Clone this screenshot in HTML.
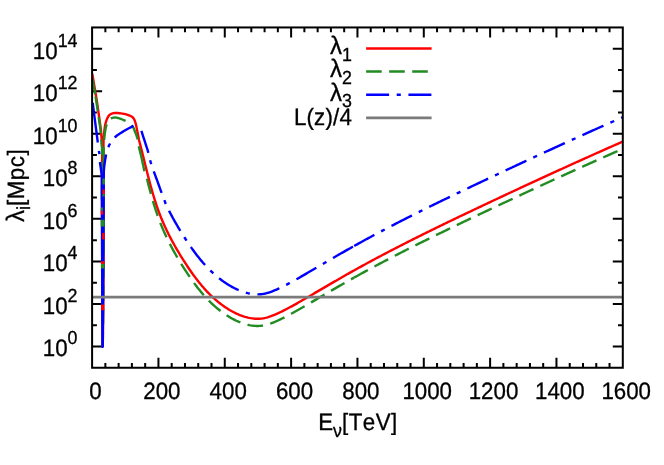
<!DOCTYPE html>
<html><head><meta charset="utf-8"><title>plot</title><style>html,body{margin:0;padding:0;background:#fff}body{width:664px;height:465px;overflow:hidden}.t,.t text,.t tspan{font-family:"Liberation Sans",sans-serif;text-rendering:geometricPrecision;font-kerning:none}</style></head><body>
<svg width="664" height="465" viewBox="0 0 664 465" style="display:block">
<rect width="664" height="465" fill="#fff"/>
<defs><clipPath id="c"><rect x="92.1" y="27.45" width="530.6999999999999" height="340.3"/></clipPath><filter id="tf" filterUnits="userSpaceOnUse" x="0" y="0" width="664" height="465"><feOffset dx="0" dy="0"/></filter></defs>
<path d="M92.1,346.48h10M622.8,346.48h-10M92.1,325.21h4.8M622.8,325.21h-4.8M92.1,303.94h10M622.8,303.94h-10M92.1,282.68h4.8M622.8,282.68h-4.8M92.1,261.41h10M622.8,261.41h-10M92.1,240.14h4.8M622.8,240.14h-4.8M92.1,218.87h10M622.8,218.87h-10M92.1,197.60h4.8M622.8,197.60h-4.8M92.1,176.33h10M622.8,176.33h-10M92.1,155.06h4.8M622.8,155.06h-4.8M92.1,133.79h10M622.8,133.79h-10M92.1,112.52h4.8M622.8,112.52h-4.8M92.1,91.26h10M622.8,91.26h-10M92.1,69.99h4.8M622.8,69.99h-4.8M92.1,48.72h10M622.8,48.72h-10M105.37,367.75v-4.8M105.37,27.45v4.8M118.63,367.75v-4.8M118.63,27.45v4.8M131.90,367.75v-4.8M131.90,27.45v4.8M145.17,367.75v-4.8M145.17,27.45v4.8M158.44,367.75v-10M158.44,27.45v10M171.70,367.75v-4.8M171.70,27.45v4.8M184.97,367.75v-4.8M184.97,27.45v4.8M198.24,367.75v-4.8M198.24,27.45v4.8M211.51,367.75v-4.8M211.51,27.45v4.8M224.77,367.75v-10M224.77,27.45v10M238.04,367.75v-4.8M238.04,27.45v4.8M251.31,367.75v-4.8M251.31,27.45v4.8M264.58,367.75v-4.8M264.58,27.45v4.8M277.84,367.75v-4.8M277.84,27.45v4.8M291.11,367.75v-10M291.11,27.45v10M304.38,367.75v-4.8M304.38,27.45v4.8M317.65,367.75v-4.8M317.65,27.45v4.8M330.91,367.75v-4.8M330.91,27.45v4.8M344.18,367.75v-4.8M344.18,27.45v4.8M357.45,367.75v-10M357.45,27.45v10M370.72,367.75v-4.8M370.72,27.45v4.8M383.98,367.75v-4.8M383.98,27.45v4.8M397.25,367.75v-4.8M397.25,27.45v4.8M410.52,367.75v-4.8M410.52,27.45v4.8M423.79,367.75v-10M423.79,27.45v10M437.05,367.75v-4.8M437.05,27.45v4.8M450.32,367.75v-4.8M450.32,27.45v4.8M463.59,367.75v-4.8M463.59,27.45v4.8M476.86,367.75v-4.8M476.86,27.45v4.8M490.12,367.75v-10M490.12,27.45v10M503.39,367.75v-4.8M503.39,27.45v4.8M516.66,367.75v-4.8M516.66,27.45v4.8M529.93,367.75v-4.8M529.93,27.45v4.8M543.19,367.75v-4.8M543.19,27.45v4.8M556.46,367.75v-10M556.46,27.45v10M569.73,367.75v-4.8M569.73,27.45v4.8M583.00,367.75v-4.8M583.00,27.45v4.8M596.26,367.75v-4.8M596.26,27.45v4.8M609.53,367.75v-4.8M609.53,27.45v4.8" stroke="#000" stroke-width="2" fill="none"/>
<g clip-path="url(#c)" fill="none" stroke-width="2.4" stroke-linejoin="round">
<path d="M92.30,74.00L96.40,98.00L98.80,114.50L100.90,130.00L102.30,148.00L102.00,175.00L102.45,346.70M102.75,346.70L102.77,345.19L102.80,343.68L102.82,342.17L102.84,340.66L102.86,339.15L102.88,337.64L102.91,336.13L102.93,334.62L102.95,333.11L102.97,331.60L102.99,330.09L103.01,328.58L103.03,327.07L103.04,325.56L103.06,324.05L103.08,322.54L103.10,321.03L103.11,319.52L103.13,318.01L103.15,316.50L103.16,314.99L103.18,313.48L103.20,311.97L103.21,310.46L103.23,308.95L103.24,307.44L103.26,305.93L103.27,304.42L103.28,302.91L103.30,301.40L103.31,299.89L103.32,298.37L103.34,296.86L103.35,295.35L103.36,293.84L103.37,292.33L103.38,290.82L103.39,289.31L103.41,287.80L103.42,286.29L103.43,284.78L103.44,283.27L103.45,281.76L103.46,280.25L103.47,278.74L103.48,277.23L103.48,275.72L103.49,274.21L103.50,272.70L103.51,271.19L103.52,269.68L103.53,268.17L103.53,266.66L103.54,265.15L103.55,263.64L103.55,262.13L103.56,260.62L103.57,259.11L103.57,257.60L103.58,256.09L103.59,254.58L103.59,253.07L103.60,251.56L103.60,250.05L103.61,248.54L103.61,247.03L103.62,245.52L103.62,244.01L103.63,242.50L103.63,240.99L103.64,239.48L103.64,237.97L103.64,236.46L103.65,234.95L103.65,233.44L103.65,231.93L103.66,230.42L103.66,228.91L103.66,227.40L103.66,225.89L103.67,224.38L103.67,222.87L103.67,221.36L103.67,219.85L103.68,218.34L103.68,216.83L103.68,215.32L103.68,213.81L103.68,212.30L103.69,210.79L103.69,209.28L103.69,207.77L103.69,206.26L103.69,204.75L103.69,203.24L103.69,201.73L103.69,200.22L103.69,198.71L103.70,197.19L103.70,195.68L103.70,194.17L103.70,192.66L103.70,191.15L103.70,189.64L103.70,188.13L103.70,186.62L103.70,185.11L103.70,183.60L103.70,182.09L103.70,180.58L103.70,179.07L103.70,177.56L103.70,176.05L103.70,174.54L103.70,173.03L103.69,171.52L103.69,170.01L103.68,168.50L103.67,166.99L103.66,165.48L103.64,163.97L103.63,162.46L103.62,160.95L103.60,159.43L103.59,157.92L103.57,156.41L103.56,154.90L103.55,153.39L103.53,151.88L103.52,150.37L103.51,148.86L103.51,147.36L103.50,145.85L103.50,144.34L103.51,142.83L103.54,141.32L103.59,139.81L103.68,138.29L103.78,136.78L103.90,135.27L104.04,133.76L104.19,132.26L104.36,130.75L104.53,129.26L104.72,127.77L104.93,126.28L105.22,124.78L105.57,123.29L105.99,121.83L106.45,120.41L106.99,119.00L107.67,117.52L108.48,116.14L109.40,115.04L110.49,114.27L111.88,113.57L113.41,113.07L114.92,112.90L116.40,112.94L117.91,113.05L119.43,113.20L120.95,113.38L122.45,113.59L123.94,113.82L125.42,114.14L126.89,114.55L128.33,115.04L129.72,115.59L131.12,116.24L132.41,117.07L133.41,118.10L134.22,119.42L134.83,120.81L135.30,122.21L135.70,123.65L136.05,125.12L136.37,126.62L136.67,128.12L136.97,129.62L137.27,131.11L137.58,132.58L137.89,134.06L138.18,135.54L138.46,137.03L138.74,138.51L139.00,140.00L139.40,141.54L139.78,142.96L140.15,144.39L140.52,145.82L140.89,147.26L141.26,148.70L141.62,150.14L141.99,151.59L142.35,153.04L142.71,154.49L143.07,155.94L143.43,157.40L143.79,158.86L144.15,160.32L144.52,161.78L144.88,163.24L145.24,164.71L145.60,166.17L145.96,167.64L146.33,169.11L146.69,170.58L147.06,172.05L147.43,173.52L147.80,174.99L148.18,176.46L148.56,177.92L148.94,179.39L149.32,180.86L149.71,182.33L150.10,183.80L150.50,185.26L150.90,186.72L151.31,188.19L151.72,189.65L152.13,191.11L152.55,192.56L152.98,194.02L153.41,195.47L153.85,196.92L154.29,198.36L154.74,199.81L155.20,201.24L155.67,202.68L156.14,204.11L156.62,205.54L157.10,206.97L157.60,208.39L158.10,209.80L158.62,211.21L159.14,212.62L159.67,214.02L160.21,215.42L160.75,216.81L161.31,218.20L161.88,219.58L162.46,220.95L163.04,222.32L163.64,223.69L164.24,225.05L164.85,226.41L165.48,227.76L166.11,229.11L166.74,230.45L167.39,231.79L168.05,233.12L168.71,234.45L169.38,235.78L170.06,237.10L170.75,238.42L171.45,239.74L172.15,241.05L172.86,242.36L173.58,243.67L174.31,244.97L175.04,246.27L175.78,247.56L176.53,248.86L177.28,250.15L178.04,251.43L178.81,252.72L179.59,254.00L180.37,255.28L181.16,256.56L181.95,257.84L182.75,259.11L183.56,260.38L184.37,261.65L185.19,262.92L186.02,264.19L186.85,265.45L187.69,266.72L188.53,267.97L189.39,269.23L190.25,270.48L191.11,271.73L191.99,272.97L192.87,274.20L193.76,275.43L194.67,276.66L195.58,277.87L196.49,279.09L197.42,280.29L198.36,281.48L199.31,282.67L200.27,283.85L201.24,285.02L202.21,286.17L203.21,287.32L204.21,288.46L205.22,289.59L206.25,290.70L207.28,291.81L208.33,292.90L209.40,293.98L210.47,295.04L211.56,296.10L212.66,297.14L213.78,298.16L214.91,299.17L216.05,300.16L217.21,301.14L218.38,302.10L219.57,303.05L220.77,303.97L221.99,304.88L223.23,305.78L224.48,306.65L225.74,307.51L227.03,308.34L228.33,309.16L229.64,309.96L230.97,310.73L232.32,311.48L233.68,312.20L235.05,312.89L236.43,313.55L237.83,314.18L239.23,314.78L240.64,315.35L242.06,315.87L243.49,316.36L244.93,316.81L246.37,317.21L247.82,317.58L249.27,317.90L250.72,318.17L252.18,318.39L253.63,318.56L255.09,318.68L256.55,318.74L258.00,318.75L259.46,318.71L260.91,318.60L262.36,318.44L263.80,318.21L265.24,317.92L266.67,317.57L268.10,317.17L269.53,316.72L270.94,316.23L272.36,315.70L273.77,315.14L275.17,314.55L276.57,313.93L277.97,313.29L279.36,312.64L280.75,311.98L282.13,311.30L283.51,310.62L284.88,309.92L286.25,309.22L287.62,308.51L288.98,307.79L290.34,307.06L291.69,306.33L293.04,305.59L294.39,304.85L295.73,304.10L297.07,303.34L298.41,302.58L299.74,301.82L301.07,301.06L302.40,300.29L303.72,299.53L305.04,298.76L306.36,297.99L307.67,297.22L308.98,296.46L310.29,295.69L311.59,294.93L312.89,294.17L314.19,293.41L315.49,292.65L316.79,291.89L318.08,291.13L319.37,290.38L320.66,289.62L321.95,288.87L323.24,288.12L324.52,287.37L325.81,286.62L327.09,285.87L328.37,285.12L329.65,284.38L330.93,283.63L332.21,282.89L333.49,282.15L334.77,281.41L336.05,280.67L337.33,279.93L338.61,279.19L339.89,278.46L341.17,277.72L342.45,276.99L343.74,276.26L345.02,275.52L346.30,274.79L347.59,274.06L348.88,273.34L350.17,272.61L351.46,271.88L352.75,271.16L354.04,270.44L355.34,269.71L356.63,268.99L357.93,268.27L359.24,267.55L360.54,266.83L361.84,266.12L363.15,265.40L364.46,264.69L365.77,263.97L367.08,263.26L368.39,262.55L369.71,261.84L371.02,261.13L372.34,260.42L373.66,259.71L374.98,259.00L376.31,258.30L377.63,257.59L378.96,256.89L380.28,256.19L381.61,255.49L382.94,254.79L384.27,254.09L385.60,253.39L386.94,252.69L388.27,251.99L389.61,251.30L390.95,250.60L392.29,249.91L393.63,249.22L394.97,248.52L396.31,247.83L397.65,247.14L399.00,246.45L400.34,245.76L401.69,245.08L403.04,244.39L404.38,243.71L405.73,243.02L407.08,242.34L408.43,241.65L409.79,240.97L411.14,240.29L412.49,239.61L413.85,238.93L415.20,238.25L416.56,237.57L417.92,236.90L419.27,236.22L420.63,235.55L421.99,234.87L423.35,234.20L424.71,233.52L426.07,232.85L427.43,232.18L428.79,231.51L430.16,230.84L431.52,230.17L432.88,229.50L434.24,228.84L435.61,228.17L436.97,227.50L438.34,226.84L439.70,226.17L441.07,225.51L442.43,224.85L443.80,224.19L445.17,223.52L446.53,222.86L447.90,222.20L449.26,221.54L450.63,220.89L452.00,220.23L453.36,219.57L454.73,218.91L456.10,218.26L457.47,217.60L458.83,216.95L460.20,216.29L461.57,215.64L462.93,214.99L464.30,214.34L465.67,213.69L467.03,213.03L468.40,212.38L469.76,211.73L471.13,211.09L472.49,210.44L473.86,209.79L475.22,209.14L476.59,208.50L477.95,207.85L479.31,207.21L480.68,206.56L482.04,205.92L483.40,205.27L484.76,204.63L486.13,203.99L487.49,203.35L488.85,202.71L490.21,202.06L491.57,201.42L492.92,200.78L494.28,200.15L495.64,199.51L497.00,198.87L498.36,198.23L499.71,197.59L501.07,196.96L502.43,196.32L503.78,195.68L505.14,195.05L506.50,194.41L507.85,193.78L509.21,193.15L510.56,192.51L511.92,191.88L513.27,191.25L514.63,190.62L515.98,189.98L517.34,189.35L518.69,188.72L520.05,188.09L521.40,187.46L522.76,186.83L524.11,186.20L525.47,185.57L526.82,184.95L528.18,184.32L529.53,183.69L530.89,183.06L532.24,182.44L533.60,181.81L534.95,181.18L536.31,180.56L537.67,179.93L539.02,179.31L540.38,178.68L541.73,178.06L543.09,177.43L544.45,176.81L545.81,176.18L547.16,175.56L548.52,174.94L549.88,174.31L551.24,173.69L552.60,173.07L553.96,172.45L555.32,171.83L556.68,171.20L558.04,170.58L559.40,169.96L560.76,169.34L562.12,168.72L563.49,168.10L564.85,167.48L566.21,166.86L567.58,166.24L568.94,165.62L570.31,165.00L571.67,164.38L573.04,163.76L574.41,163.15L575.78,162.53L577.14,161.91L578.51,161.29L579.88,160.67L581.26,160.06L582.63,159.44L584.00,158.82L585.37,158.20L586.75,157.59L588.12,156.97L589.50,156.35L590.87,155.73L592.25,155.12L593.63,154.50L595.01,153.88L596.39,153.27L597.77,152.65L599.15,152.04L600.54,151.42L601.92,150.80L603.31,150.19L604.69,149.57L606.08,148.95L607.47,148.34L608.86,147.72L610.25,147.11L611.64,146.49L613.03,145.88L614.43,145.26L615.82,144.64L617.22,144.03L618.62,143.41L620.02,142.80L621.42,142.18L622.80,141.70" stroke="#ff0000"/>
<path d="M92.60,79.59L92.64,79.79L92.67,79.99L92.71,80.18L92.74,80.38L92.77,80.58L92.81,80.77L92.84,80.97L92.88,81.17L92.91,81.36L92.94,81.56L92.98,81.76L93.01,81.96L93.05,82.15L93.08,82.35L93.12,82.55L93.15,82.74L93.18,82.94L93.22,83.14L93.25,83.34L93.29,83.53L93.32,83.73L93.36,83.93L93.39,84.12L93.42,84.32L93.46,84.52L93.49,84.71L93.53,84.91L93.56,85.11L93.60,85.31L93.63,85.50L93.66,85.70L93.70,85.90L93.73,86.09L93.77,86.29L93.80,86.49L93.83,86.68L93.87,86.88L93.90,87.08L93.94,87.28L93.97,87.47L94.01,87.67L94.04,87.87L94.07,88.06L94.11,88.26L94.14,88.46L94.18,88.66L94.21,88.85L94.25,89.05L94.28,89.25L94.31,89.44L94.35,89.64L94.38,89.84L94.42,90.03L94.45,90.23L94.49,90.43L94.52,90.63L94.55,90.82L94.59,91.02L94.62,91.22L94.66,91.41L94.69,91.61L94.72,91.81L94.76,92.01L94.79,92.20L94.83,92.40L94.86,92.60L94.90,92.79L94.93,92.99L94.96,93.19L95.00,93.38L95.03,93.58L95.07,93.78L95.10,93.98L95.14,94.17L95.17,94.37" stroke="#228b22"/>
<path d="M95.55,96.54L95.58,96.73L95.61,96.93L95.65,97.13L95.68,97.33L95.72,97.52L95.75,97.72L95.79,97.92L95.82,98.11L95.85,98.31L95.88,98.51L95.91,98.71L95.94,98.91L95.97,99.10L96.00,99.30L96.03,99.50L96.06,99.70L96.09,99.89L96.12,100.09L96.15,100.29L96.18,100.49L96.21,100.68L96.24,100.88L96.27,101.08L96.30,101.28L96.33,101.48L96.36,101.67L96.39,101.87L96.42,102.07L96.45,102.27L96.48,102.46L96.51,102.66L96.54,102.86L96.57,103.06L96.60,103.26L96.63,103.45L96.66,103.65L96.69,103.85L96.72,104.05L96.75,104.24L96.78,104.44L96.81,104.64L96.84,104.84L96.87,105.04L96.90,105.23L96.93,105.43L96.96,105.63L96.99,105.83L97.02,106.02L97.05,106.22L97.08,106.42L97.11,106.62L97.14,106.81L97.17,107.01L97.20,107.21L97.23,107.41L97.26,107.61L97.29,107.80L97.32,108.00L97.35,108.20L97.38,108.40L97.41,108.59L97.44,108.79L97.47,108.99L97.50,109.19L97.53,109.39L97.56,109.58L97.59,109.78L97.61,109.98L97.64,110.18L97.67,110.37L97.70,110.57L97.73,110.77L97.76,110.97" stroke="#228b22"/>
<path d="M98.67,117.10L98.70,117.30L98.73,117.50L98.75,117.70L98.78,117.89L98.81,118.09L98.84,118.29L98.87,118.49L98.89,118.69L98.92,118.88L98.95,119.08L98.98,119.28L99.01,119.48L99.03,119.68L99.06,119.87L99.09,120.07L99.12,120.27L99.15,120.47L99.18,120.67L99.20,120.86L99.23,121.06L99.26,121.26L99.29,121.46L99.32,121.66L99.34,121.85L99.37,122.05L99.40,122.25L99.43,122.45L99.46,122.65L99.48,122.84L99.51,123.04L99.54,123.24L99.57,123.44L99.60,123.64L99.62,123.83L99.65,124.03L99.68,124.23L99.71,124.43L99.74,124.63L99.77,124.82L99.79,125.02L99.82,125.22L99.85,125.42L99.88,125.62L99.91,125.81L99.93,126.01L99.96,126.21L99.99,126.41L100.02,126.61L100.05,126.80L100.07,127.00L100.10,127.20L100.13,127.40L100.16,127.60L100.19,127.79L100.21,127.99L100.24,128.19L100.27,128.39L100.30,128.59L100.33,128.78L100.36,128.98L100.38,129.18L100.41,129.38L100.44,129.58L100.47,129.77L100.50,129.97L100.51,130.17L100.53,130.37L100.55,130.57L100.56,130.77L100.58,130.97L100.60,131.17L100.61,131.37L100.63,131.57L100.65,131.77L100.66,131.97L100.68,132.16L100.70,132.36L100.71,132.56L100.73,132.76L100.75,132.96L100.76,133.16L100.78,133.36" stroke="#228b22"/>
<path d="M101.29,139.54L101.31,139.74L101.33,139.94L101.34,140.14L101.36,140.34L101.38,140.54L101.39,140.73L101.41,140.93L101.43,141.13L101.44,141.33L101.46,141.53L101.48,141.73L101.49,141.93L101.51,142.13L101.53,142.33L101.54,142.53L101.56,142.73L101.58,142.93L101.59,143.13L101.61,143.33L101.63,143.52L101.64,143.72L101.66,143.92L101.68,144.12L101.69,144.32L101.71,144.52L101.73,144.72L101.74,144.92L101.76,145.12L101.78,145.32L101.79,145.52L101.81,145.72L101.83,145.92L101.84,146.12L101.86,146.32L101.88,146.51L101.89,146.71L101.91,146.91L101.93,147.11L101.94,147.31L101.96,147.51L101.98,147.71L101.99,147.91L102.00,148.11L102.00,148.31L102.00,148.51L102.00,148.71L102.00,148.91L102.00,149.11L102.00,149.31L101.99,149.51L101.99,149.71L101.99,149.91L101.99,150.11L101.99,150.31L101.99,150.51L101.99,150.71L101.99,150.91L101.99,151.11L101.99,151.31L101.99,151.51L101.99,151.71L101.99,151.91L101.98,152.11L101.98,152.31L101.98,152.51L101.98,152.71L101.98,152.91L101.98,153.11L101.98,153.31L101.98,153.51L101.98,153.71L101.98,153.91L101.98,154.11L101.98,154.31L101.98,154.51L101.98,154.71L101.97,154.91" stroke="#228b22"/>
<path d="M101.95,162.11L101.95,162.31L101.95,162.51L101.95,162.71L101.94,162.91L101.94,163.11L101.94,163.31L101.94,163.51L101.94,163.71L101.94,163.91L101.94,164.11L101.94,164.31L101.94,164.51L101.94,164.71L101.94,164.91L101.94,165.11L101.94,165.31L101.94,165.51L101.93,165.71L101.93,165.91L101.93,166.11L101.93,166.31L101.93,166.51L101.93,166.71L101.93,166.91L101.93,167.11L101.93,167.31L101.93,167.51L101.93,167.71L101.93,167.91L101.93,168.11L101.92,168.31L101.92,168.51L101.92,168.71L101.92,168.91L101.92,169.11L101.92,169.31L101.92,169.51L101.92,169.71L101.92,169.91L101.92,170.11L101.92,170.31L101.92,170.51L101.92,170.71L101.92,170.91L101.91,171.11L101.91,171.31L101.91,171.51L101.91,171.71L101.91,171.91L101.91,172.11L101.91,172.31L101.91,172.51L101.91,172.71L101.91,172.91L101.91,173.11L101.91,173.31L101.91,173.51L101.90,173.71L101.90,173.91L101.90,174.11L101.90,174.31L101.90,174.51L101.90,174.71L101.90,174.91L101.90,175.11L101.90,175.31L101.90,175.51L101.90,175.71L101.90,175.91L101.90,176.11L101.90,176.31L101.90,176.51L101.91,176.71L101.91,176.91" stroke="#228b22"/>
<path d="M101.93,185.11L101.93,185.31L101.93,185.51L101.93,185.71L101.93,185.91L101.94,186.11L101.94,186.31L101.94,186.51L101.94,186.71L101.94,186.91L101.94,187.11L101.94,187.31L101.94,187.51L101.94,187.71L101.94,187.91L101.94,188.11L101.94,188.31L101.94,188.51L101.94,188.71L101.94,188.91L101.95,189.11L101.95,189.31L101.95,189.51L101.95,189.71L101.95,189.91L101.95,190.11L101.95,190.31L101.95,190.51L101.95,190.71L101.95,190.91L101.95,191.11L101.95,191.31L101.95,191.51L101.95,191.71L101.95,191.91L101.95,192.11L101.96,192.31L101.96,192.51L101.96,192.71L101.96,192.91L101.96,193.11L101.96,193.31L101.96,193.51L101.96,193.71L101.96,193.91L101.96,194.11L101.96,194.31L101.96,194.51L101.96,194.71L101.96,194.91L101.96,195.11L101.97,195.31L101.97,195.51L101.97,195.71L101.97,195.91L101.97,196.11L101.97,196.31L101.97,196.51L101.97,196.71L101.97,196.91L101.97,197.11L101.97,197.31L101.97,197.51L101.97,197.71L101.97,197.91L101.97,198.11L101.97,198.31L101.98,198.51L101.98,198.71L101.98,198.91L101.98,199.11L101.98,199.31L101.98,199.51L101.98,199.71L101.98,199.91" stroke="#228b22"/>
<path d="M102.75,346.70L102.77,345.19L102.79,343.68L102.81,342.17L102.83,340.66L102.85,339.15L102.87,337.64L102.89,336.12L102.90,334.61L102.92,333.10L102.94,331.59L102.96,330.08L102.98,328.57L102.99,327.06L103.01,325.55L103.03,324.04L103.04,322.53L103.06,321.02L103.07,319.51L103.09,318.00L103.11,316.48L103.12,314.97L103.14,313.46L103.15,311.95L103.17,310.44L103.18,308.93L103.19,307.42L103.21,305.91L103.22,304.40L103.23,302.89L103.25,301.38L103.26,299.87L103.27,298.36L103.28,296.84L103.30,295.33L103.31,293.82L103.32,292.31L103.33,290.80L103.34,289.29L103.35,287.78L103.36,286.27L103.38,284.76L103.39,283.25L103.40,281.74L103.41,280.23L103.42,278.72L103.43,277.20L103.44,275.69L103.44,274.18L103.45,272.67L103.46,271.16L103.47,269.65L103.48,268.14L103.49,266.63L103.50,265.12L103.50,263.61L103.51,262.10L103.52,260.59L103.53,259.08L103.53,257.56L103.54,256.05L103.55,254.54L103.55,253.03L103.56,251.52L103.57,250.01L103.57,248.50L103.58,246.99L103.58,245.48L103.59,243.97L103.60,242.46L103.60,240.95L103.61,239.44L103.61,237.92L103.62,236.41L103.62,234.90L103.63,233.39L103.63,231.88L103.63,230.37L103.64,228.86L103.64,227.35L103.65,225.84L103.65,224.33L103.65,222.82L103.66,221.31L103.66,219.80L103.66,218.28L103.67,216.77L103.67,215.26L103.67,213.75L103.67,212.24L103.68,210.73L103.68,209.22L103.68,207.71L103.68,206.20L103.68,204.69L103.69,203.18L103.69,201.67L103.69,200.15L103.69,198.64L103.69,197.13L103.69,195.62L103.69,194.11L103.70,192.60L103.70,191.09L103.70,189.58L103.70,188.07L103.70,186.56L103.70,185.05L103.70,183.54L103.70,182.03L103.70,180.51L103.70,179.00L103.70,177.49L103.70,175.98L103.70,174.47L103.69,172.96L103.69,171.45L103.68,169.94L103.67,168.43L103.67,166.91L103.66,165.40L103.65,163.89L103.64,162.38L103.63,160.87L103.63,159.36L103.62,157.85L103.61,156.34L103.61,154.83L103.60,153.32L103.60,151.81L103.60,150.30L103.61,148.79L103.65,147.28L103.71,145.77L103.79,144.26L103.90,142.74L104.02,141.23L104.16,139.73L104.31,138.22L104.47,136.72L104.64,135.22L104.81,133.72L105.00,132.23L105.22,130.72L105.48,129.21L105.79,127.71L106.14,126.23L106.55,124.80L107.01,123.39L107.64,121.88L108.43,120.44L109.34,119.32L110.42,118.62L111.84,118.04L113.42,117.63L114.94,117.50L116.40,117.64L117.88,117.96L119.35,118.40L120.81,118.94L122.25,119.50L123.65,120.06L125.03,120.66L126.41,121.34L127.74,122.11L129.00,122.94L130.17,123.84L131.30,124.88L132.32,126.03L133.15,127.26L133.80,128.60L134.37,130.03L134.93,131.44L135.49,132.84L136.03,134.26L136.55,135.68L137.03,137.10L137.48,138.55L137.90,140.00" stroke="#228b22" stroke-dasharray="15.6 7.45" stroke-dashoffset="0.51"/>
<path d="M138.75,146.25L141.5,157.5L144.4,171.25" stroke="#228b22"/>
<path d="M146.00,174.99L146.33,176.31L146.69,177.78L147.06,179.25L147.43,180.72L147.80,182.19L148.18,183.66L148.56,185.12L148.94,186.59L149.32,188.06L149.71,189.53L150.10,191.00L150.50,192.46L150.90,193.92L151.31,195.39L151.72,196.85L152.13,198.31L152.55,199.76L152.98,201.22L153.41,202.67L153.85,204.12L154.29,205.56L154.74,207.01L155.20,208.44L155.67,209.88L156.14,211.31L156.62,212.74L157.10,214.17L157.60,215.59L158.10,217.00L158.62,218.41L159.14,219.82L159.67,221.22L160.21,222.62L160.75,224.01L161.31,225.40L161.88,226.78L162.46,228.15L163.04,229.52L163.64,230.89L164.24,232.25L164.85,233.61L165.48,234.96L166.11,236.31L166.74,237.65L167.39,238.99L168.05,240.32L168.71,241.65L169.38,242.98L170.06,244.30L170.75,245.62L171.45,246.94L172.15,248.25L172.86,249.56L173.58,250.87L174.31,252.17L175.04,253.47L175.78,254.76L176.53,256.06L177.28,257.35L178.04,258.63L178.81,259.92L179.59,261.20L180.37,262.48L181.16,263.76L181.95,265.04L182.75,266.31L183.56,267.58L184.37,268.85L185.19,270.12L186.02,271.39L186.85,272.65L187.69,273.92L188.53,275.17L189.39,276.43L190.25,277.68L191.11,278.93L191.99,280.17L192.87,281.40L193.76,282.63L194.67,283.86L195.58,285.07L196.49,286.29L197.42,287.49L198.36,288.68L199.31,289.87L200.27,291.05L201.24,292.22L202.21,293.37L203.21,294.52L204.21,295.66L205.22,296.79L206.25,297.90L207.28,299.01L208.33,300.10L209.40,301.18L210.47,302.24L211.56,303.30L212.66,304.34L213.78,305.36L214.91,306.37L216.05,307.36L217.21,308.34L218.38,309.30L219.57,310.25L220.77,311.17L221.99,312.08L223.23,312.98L224.48,313.85L225.74,314.71L227.03,315.54L228.33,316.36L229.64,317.16L230.97,317.93L232.32,318.68L233.68,319.40L235.05,320.09L236.43,320.75L237.83,321.38L239.23,321.98L240.64,322.55L242.06,323.07L243.49,323.56L244.93,324.01L246.37,324.41L247.82,324.78L249.27,325.10L250.72,325.37L252.18,325.59L253.63,325.76L255.09,325.88L256.55,325.94L258.00,325.95L259.46,325.91L260.91,325.80L262.36,325.64L263.80,325.41L265.24,325.12L266.67,324.77L268.10,324.37L269.53,323.92L270.94,323.43L272.36,322.90L273.77,322.34L275.17,321.75L276.57,321.13L277.97,320.49L279.36,319.84L280.75,319.18L282.13,318.50L283.51,317.82L284.88,317.12L286.25,316.42L287.62,315.71L288.98,314.99L290.34,314.26L291.69,313.53L293.04,312.79L294.39,312.05L295.73,311.30L297.07,310.54L298.41,309.78L299.74,309.02L301.07,308.26L302.40,307.49L303.72,306.73L305.04,305.96L306.36,305.19L307.67,304.42L308.98,303.66L310.29,302.89L311.59,302.13L312.89,301.37L314.19,300.61L315.49,299.85L316.79,299.09L318.08,298.33L319.37,297.58L320.66,296.82L321.95,296.07L323.24,295.32L324.52,294.57L325.81,293.82L327.09,293.07L328.37,292.32L329.65,291.58L330.93,290.83L332.21,290.09L333.49,289.35L334.77,288.61L336.05,287.87L337.33,287.13L338.61,286.39L339.89,285.66L341.17,284.92L342.45,284.19L343.74,283.46L345.02,282.72L346.30,281.99L347.59,281.26L348.88,280.54L350.17,279.81L351.46,279.08L352.75,278.36L354.04,277.64L354.20,277.55" stroke="#228b22" stroke-dasharray="15.6 7.45" stroke-dashoffset="19.15"/>
<path d="M354.20,277.55L355.34,276.91L356.63,276.19L357.93,275.47L359.24,274.75L360.54,274.03L361.84,273.32L363.15,272.60L364.46,271.89L365.77,271.17L367.08,270.46L368.39,269.75L369.71,269.04L371.02,268.33L372.34,267.62L373.66,266.91L374.98,266.20L376.31,265.50L377.63,264.79L378.96,264.09L380.28,263.39L381.61,262.69L382.94,261.99L384.27,261.29L385.60,260.59L386.94,259.89L388.27,259.19L389.61,258.50L390.95,257.80L392.29,257.11L393.63,256.42L394.97,255.72L396.31,255.03L397.65,254.34L399.00,253.65L400.34,252.96L401.69,252.28L403.04,251.59L404.38,250.91L405.73,250.22L407.08,249.54L408.43,248.85L409.79,248.17L411.14,247.49L412.49,246.81L413.85,246.13L415.20,245.45L416.56,244.77L417.92,244.10L419.27,243.42L420.63,242.75L421.99,242.07L423.35,241.40L424.71,240.72L426.07,240.05L427.43,239.38L428.79,238.71L430.16,238.04L431.52,237.37L432.88,236.70L434.24,236.04L435.61,235.37L436.97,234.70L438.34,234.04L439.70,233.37L441.07,232.71L442.43,232.05L443.80,231.39L445.17,230.72L446.53,230.06L447.90,229.40L449.26,228.74L450.63,228.09L452.00,227.43L453.36,226.77L454.73,226.11L456.10,225.46L457.47,224.80L458.83,224.15L460.20,223.49L461.57,222.84L462.93,222.19L464.30,221.54L465.67,220.89L467.03,220.23L468.40,219.58L469.76,218.93L471.13,218.29L472.49,217.64L473.86,216.99L475.22,216.34L476.59,215.70L477.95,215.05L479.31,214.41L480.68,213.76L482.04,213.12L483.40,212.47L484.76,211.83L486.13,211.19L487.49,210.55L488.85,209.91L490.21,209.26L491.57,208.62L492.92,207.98L494.28,207.35L495.64,206.71L497.00,206.07L498.36,205.43L499.71,204.79L501.07,204.16L502.43,203.52L503.78,202.88L505.14,202.25L506.50,201.61L507.85,200.98L509.21,200.35L510.56,199.71L511.92,199.08L513.27,198.45L514.63,197.82L515.98,197.18L517.34,196.55L518.69,195.92L520.05,195.29L521.40,194.66L522.76,194.03L524.11,193.40L525.47,192.77L526.82,192.15L528.18,191.52L529.53,190.89L530.89,190.26L532.24,189.64L533.60,189.01L534.95,188.38L536.31,187.76L537.67,187.13L539.02,186.51L540.38,185.88L541.73,185.26L543.09,184.63L544.45,184.01L545.81,183.38L547.16,182.76L548.52,182.14L549.88,181.51L551.24,180.89L552.60,180.27L553.96,179.65L555.32,179.03L556.68,178.40L558.04,177.78L559.40,177.16L560.76,176.54L562.12,175.92L563.49,175.30L564.85,174.68L566.21,174.06L567.58,173.44L568.94,172.82L570.31,172.20L571.67,171.58L573.04,170.96L574.41,170.35L575.78,169.73L577.14,169.11L578.51,168.49L579.88,167.87L581.26,167.26L582.63,166.64L584.00,166.02L585.37,165.40L586.75,164.79L588.12,164.17L589.50,163.55L590.87,162.93L592.25,162.32L593.63,161.70L595.01,161.08L596.39,160.47L597.77,159.85L599.15,159.24L600.54,158.62L601.92,158.00L603.31,157.39L604.69,156.77L606.08,156.15L607.47,155.54L608.86,154.92L610.25,154.31L611.64,153.69L613.03,153.08L614.43,152.46L615.82,151.84L617.22,151.23L618.62,150.61L620.02,150.00L621.42,149.38L622.80,148.90" stroke="#228b22" stroke-dasharray="15.6 7.45"/>
<path d="M92.7,103L97.8,142.5M98.9,150.8L99.4,154.2M99.9,162L101.8,175L102.45,346.7L102.75,346.7L103.75,175" stroke="#0000ff"/>
<path d="M103.75,175.00L103.77,173.42L103.82,171.85L103.91,170.29L104.03,168.73L104.18,167.18L104.35,165.64L104.54,164.10L104.75,162.57L104.98,161.04L105.22,159.52L105.48,158.00L105.74,156.49L106.00,154.99L106.31,153.48L106.69,151.96L107.14,150.45L107.64,148.96L108.19,147.51L108.78,146.09L109.42,144.73L110.17,143.37L111.02,142.04L111.94,140.74L112.92,139.51L113.94,138.34L114.99,137.26L116.11,136.26L117.31,135.30L118.58,134.39L119.89,133.52L121.23,132.68L122.57,131.86L123.91,131.06L125.23,130.27L126.57,129.50L127.93,128.75L129.30,128.03L130.69,127.33L132.09,126.65L133.50,126.00" stroke="#0000ff" stroke-dasharray="23.0 7.6 4.1 7.6" stroke-dashoffset="2.30"/>
<path d="M140.80,129.00L141.27,130.46L141.74,131.92L142.21,133.39L142.67,134.85L143.14,136.31L143.61,137.77L144.08,139.24L144.55,140.70L145.03,142.16L145.51,143.62L145.99,145.07L146.47,146.53L146.94,148.00L147.39,149.46L147.83,150.93L148.24,152.41L148.62,153.90L148.98,155.39L149.34,156.89L149.69,158.38L150.05,159.87L150.45,161.36L150.87,162.83L151.33,164.29L151.82,165.75L152.32,167.20L152.83,168.65L153.34,170.10L153.85,171.55L154.37,172.99L154.89,174.44L155.42,175.88L155.96,177.32L156.49,178.76L157.02,180.20L157.55,181.64L158.07,183.08L158.59,184.53L159.11,185.97L159.62,187.42L160.14,188.86L160.67,190.31L161.19,191.75L161.73,193.19L162.26,194.63L162.81,196.06L163.35,197.50L163.90,198.93L164.45,200.37L165.00,201.80L165.48,203.36L166.11,204.71L166.74,206.05L167.39,207.39L168.05,208.72L168.71,210.05L169.38,211.38L170.06,212.70L170.75,214.02L171.45,215.34L172.15,216.65L172.86,217.96L173.58,219.27L174.31,220.57L175.04,221.87L175.78,223.16L176.53,224.46L177.28,225.75L178.04,227.03L178.81,228.32L179.59,229.60L180.37,230.88L181.16,232.16L181.95,233.44L182.75,234.71L183.56,235.98L184.37,237.25L185.19,238.52L186.02,239.79L186.85,241.05L187.69,242.32L188.53,243.57L189.39,244.83L190.25,246.08L191.11,247.33L191.99,248.57L192.87,249.80L193.76,251.03L194.67,252.26L195.58,253.47L196.49,254.69L197.42,255.89L198.36,257.08L199.31,258.27L200.27,259.45L201.24,260.62L202.21,261.77L203.21,262.92L204.21,264.06L205.22,265.19L206.25,266.30L207.28,267.41L208.33,268.50L209.40,269.58L210.47,270.64L211.56,271.70L212.66,272.74L213.78,273.76L214.91,274.77L216.05,275.76L217.21,276.74L218.38,277.70L219.57,278.65L220.77,279.57L221.99,280.48L223.23,281.38L224.48,282.25L225.74,283.11L227.03,283.94L228.33,284.76L229.64,285.56L230.97,286.33L232.32,287.08L233.68,287.80L235.05,288.49L236.43,289.15L237.83,289.78L239.23,290.38L240.64,290.95L242.06,291.47L243.49,291.96L244.93,292.41L246.37,292.81L247.82,293.18L249.27,293.50L250.72,293.77L252.18,293.99L253.63,294.16L255.09,294.28L256.55,294.34L258.00,294.35L259.46,294.31L260.91,294.20L262.36,294.04L263.80,293.81L265.24,293.52L266.67,293.17L268.10,292.77L269.53,292.32L270.94,291.83L272.36,291.30L273.77,290.74L275.17,290.15L276.57,289.53L277.97,288.89L279.36,288.24L280.75,287.58L282.13,286.90L283.51,286.22L284.88,285.52L286.25,284.82L287.62,284.11L288.98,283.39L290.34,282.66L291.69,281.93L293.04,281.19L294.39,280.45L295.73,279.70L297.07,278.94L298.41,278.18L299.74,277.42L301.07,276.66L302.40,275.89L303.72,275.13L305.04,274.36L306.36,273.59L307.67,272.82L308.98,272.06L310.29,271.29L311.59,270.53L312.89,269.77L314.19,269.01L315.49,268.25L316.79,267.49L318.08,266.73L319.37,265.98L320.66,265.22L321.95,264.47L323.24,263.72L324.52,262.97L325.81,262.22L327.09,261.47L328.37,260.72L329.65,259.98L330.93,259.23L332.21,258.49L333.49,257.75L334.77,257.01L336.05,256.27L337.33,255.53L338.61,254.79L339.89,254.06L341.17,253.32L342.45,252.59L343.74,251.86L345.02,251.12L346.30,250.39L347.59,249.66L348.88,248.94L350.17,248.21L351.46,247.48L352.75,246.76L354.04,246.04L354.20,245.95" stroke="#0000ff" stroke-dasharray="23.0 7.6 4.1 7.6" stroke-dashoffset="40.30"/>
<path d="M354.20,245.95L355.34,245.31L356.63,244.59L357.93,243.87L359.24,243.15L360.54,242.43L361.84,241.72L363.15,241.00L364.46,240.29L365.77,239.57L367.08,238.86L368.39,238.15L369.71,237.44L371.02,236.73L372.34,236.02L373.66,235.31L374.98,234.60L376.31,233.90L377.63,233.19L378.96,232.49L380.28,231.79L381.61,231.09L382.94,230.39L384.27,229.69L385.60,228.99L386.94,228.29L388.27,227.59L389.61,226.90L390.95,226.20L392.29,225.51L393.63,224.82L394.97,224.12L396.31,223.43L397.65,222.74L399.00,222.05L400.34,221.36L401.69,220.68L403.04,219.99L404.38,219.31L405.73,218.62L407.08,217.94L408.43,217.25L409.79,216.57L411.14,215.89L412.49,215.21L413.85,214.53L415.20,213.85L416.56,213.17L417.92,212.50L419.27,211.82L420.63,211.15L421.99,210.47L423.35,209.80L424.71,209.12L426.07,208.45L427.43,207.78L428.79,207.11L430.16,206.44L431.52,205.77L432.88,205.10L434.24,204.44L435.61,203.77L436.97,203.10L438.34,202.44L439.70,201.77L441.07,201.11L442.43,200.45L443.80,199.79L445.17,199.12L446.53,198.46L447.90,197.80L449.26,197.14L450.63,196.49L452.00,195.83L453.36,195.17L454.73,194.51L456.10,193.86L457.47,193.20L458.83,192.55L460.20,191.89L461.57,191.24L462.93,190.59L464.30,189.94L465.67,189.29L467.03,188.63L468.40,187.98L469.76,187.33L471.13,186.69L472.49,186.04L473.86,185.39L475.22,184.74L476.59,184.10L477.95,183.45L479.31,182.81L480.68,182.16L482.04,181.52L483.40,180.87L484.76,180.23L486.13,179.59L487.49,178.95L488.85,178.31L490.21,177.66L491.57,177.02L492.92,176.38L494.28,175.75L495.64,175.11L497.00,174.47L498.36,173.83L499.71,173.19L501.07,172.56L502.43,171.92L503.78,171.28L505.14,170.65L506.50,170.01L507.85,169.38L509.21,168.75L510.56,168.11L511.92,167.48L513.27,166.85L514.63,166.22L515.98,165.58L517.34,164.95L518.69,164.32L520.05,163.69L521.40,163.06L522.76,162.43L524.11,161.80L525.47,161.17L526.82,160.55L528.18,159.92L529.53,159.29L530.89,158.66L532.24,158.04L533.60,157.41L534.95,156.78L536.31,156.16L537.67,155.53L539.02,154.91L540.38,154.28L541.73,153.66L543.09,153.03L544.45,152.41L545.81,151.78L547.16,151.16L548.52,150.54L549.88,149.91L551.24,149.29L552.60,148.67L553.96,148.05L555.32,147.43L556.68,146.80L558.04,146.18L559.40,145.56L560.76,144.94L562.12,144.32L563.49,143.70L564.85,143.08L566.21,142.46L567.58,141.84L568.94,141.22L570.31,140.60L571.67,139.98L573.04,139.36L574.41,138.75L575.78,138.13L577.14,137.51L578.51,136.89L579.88,136.27L581.26,135.66L582.63,135.04L584.00,134.42L585.37,133.80L586.75,133.19L588.12,132.57L589.50,131.95L590.87,131.33L592.25,130.72L593.63,130.10L595.01,129.48L596.39,128.87L597.77,128.25L599.15,127.64L600.54,127.02L601.92,126.40L603.31,125.79L604.69,125.17L606.08,124.55L607.47,123.94L608.86,123.32L610.25,122.71L611.64,122.09L613.03,121.48L614.43,120.86L615.82,120.24L617.22,119.63L618.62,119.01L620.02,118.40L621.42,117.78L622.80,117.30" stroke="#0000ff" stroke-dasharray="23.0 7.6 4.1 7.6"/>
<path d="M103.73,178.50L103.70,184.40" stroke="#228b22"/>
<path d="M103.67,189.50L103.64,194.00" stroke="#ff0000"/>
<path d="M103.64,194.00L103.62,196.60" stroke="#228b22"/>
<path d="M101.92,207.60L101.94,210.80" stroke="#228b22"/>
<path d="M101.94,210.80L101.95,214.70" stroke="#ff0000"/>
<path d="M101.97,219.80L101.99,226.50M103.49,219.80L103.45,226.50" stroke="#228b22"/>
<path d="M103.41,233.00L103.37,239.40" stroke="#ff0000"/>
<path d="M102.13,261.30L102.14,263.90M103.25,261.30L103.23,263.90" stroke="#ff0000"/>
<path d="M102.14,263.90L102.15,268.40M103.23,263.90L103.21,268.40" stroke="#228b22"/>
<path d="M102.29,304.50L102.31,310.20M103.00,304.50L102.96,310.20" stroke="#ff0000"/>
<path d="M92.1,297.15H622.8" stroke="#7b7b7b" stroke-width="2.7"/>
</g>
<rect x="92.1" y="27.45" width="530.6999999999999" height="340.3" fill="none" stroke="#000" stroke-width="2"/>
<g fill="none" stroke-width="2.5">
<path d="M366.1,48.4H431.6" stroke="#ff0000"/>
<path d="M366.1,71.6H431.6" stroke="#228b22" stroke-dasharray="15.6 7.45"/>
<path d="M366.1,94.8H431.6" stroke="#0000ff" stroke-dasharray="23.0 7.6 4.1 7.6"/>
<path d="M366.1,117.9H431.6" stroke="#7b7b7b" stroke-width="2.8"/>
</g>
<g class="t" font-size="22.3" fill="#000" stroke="#000" stroke-width="0.3" filter="url(#tf)">
<text transform="translate(77.5,356.28) scale(1,1.06)" text-anchor="end">10<tspan font-size="17.85" dy="-11.32">0</tspan></text>
<text transform="translate(77.5,313.74) scale(1,1.06)" text-anchor="end">10<tspan font-size="17.85" dy="-11.32">2</tspan></text>
<text transform="translate(77.5,271.21) scale(1,1.06)" text-anchor="end">10<tspan font-size="17.85" dy="-11.32">4</tspan></text>
<text transform="translate(77.5,228.67) scale(1,1.06)" text-anchor="end">10<tspan font-size="17.85" dy="-11.32">6</tspan></text>
<text transform="translate(77.5,186.13) scale(1,1.06)" text-anchor="end">10<tspan font-size="17.85" dy="-11.32">8</tspan></text>
<text transform="translate(77.5,143.59) scale(1,1.06)" text-anchor="end">10<tspan font-size="17.85" dy="-11.32">10</tspan></text>
<text transform="translate(77.5,101.06) scale(1,1.06)" text-anchor="end">10<tspan font-size="17.85" dy="-11.32">12</tspan></text>
<text transform="translate(77.5,58.52) scale(1,1.06)" text-anchor="end">10<tspan font-size="17.85" dy="-11.32">14</tspan></text>
<text transform="translate(95.50,398.8) scale(1,1.06)" text-anchor="middle">0</text>
<text transform="translate(161.84,398.8) scale(1,1.06)" text-anchor="middle">200</text>
<text transform="translate(228.17,398.8) scale(1,1.06)" text-anchor="middle">400</text>
<text transform="translate(294.51,398.8) scale(1,1.06)" text-anchor="middle">600</text>
<text transform="translate(360.85,398.8) scale(1,1.06)" text-anchor="middle">800</text>
<text transform="translate(427.19,398.8) scale(1,1.06)" text-anchor="middle">1000</text>
<text transform="translate(493.52,398.8) scale(1,1.06)" text-anchor="middle">1200</text>
<text transform="translate(559.86,398.8) scale(1,1.06)" text-anchor="middle">1400</text>
<text transform="translate(626.20,398.8) scale(1,1.06)" text-anchor="middle">1600</text>
<text transform="translate(352,54.0) scale(1,1.06)" text-anchor="end"><tspan font-size="24">λ</tspan><tspan font-size="17.85" dy="6.23">1</tspan></text>
<text transform="translate(352,77.3) scale(1,1.06)" text-anchor="end"><tspan font-size="24">λ</tspan><tspan font-size="17.85" dy="6.23">2</tspan></text>
<text transform="translate(352,100.7) scale(1,1.06)" text-anchor="end"><tspan font-size="24">λ</tspan><tspan font-size="17.85" dy="6.23">3</tspan></text>
<text transform="translate(352.1,124.9) scale(1,1.06)" text-anchor="end" letter-spacing="0.2">L(z)/4</text>
<text transform="translate(318.2,430.3) scale(1,1.06)">E<tspan font-size="17.85" dy="6.23">ν</tspan><tspan dy="-6.23" letter-spacing="0.5">[TeV]</tspan></text>
<text transform="translate(23.7,222) rotate(-90) scale(1,1.06)"><tspan font-size="24">λ</tspan><tspan font-size="17.85" dy="6.23">i</tspan><tspan dy="-6.23" letter-spacing="0.55">[Mpc]</tspan></text>
</g>
</svg>
</body></html>
